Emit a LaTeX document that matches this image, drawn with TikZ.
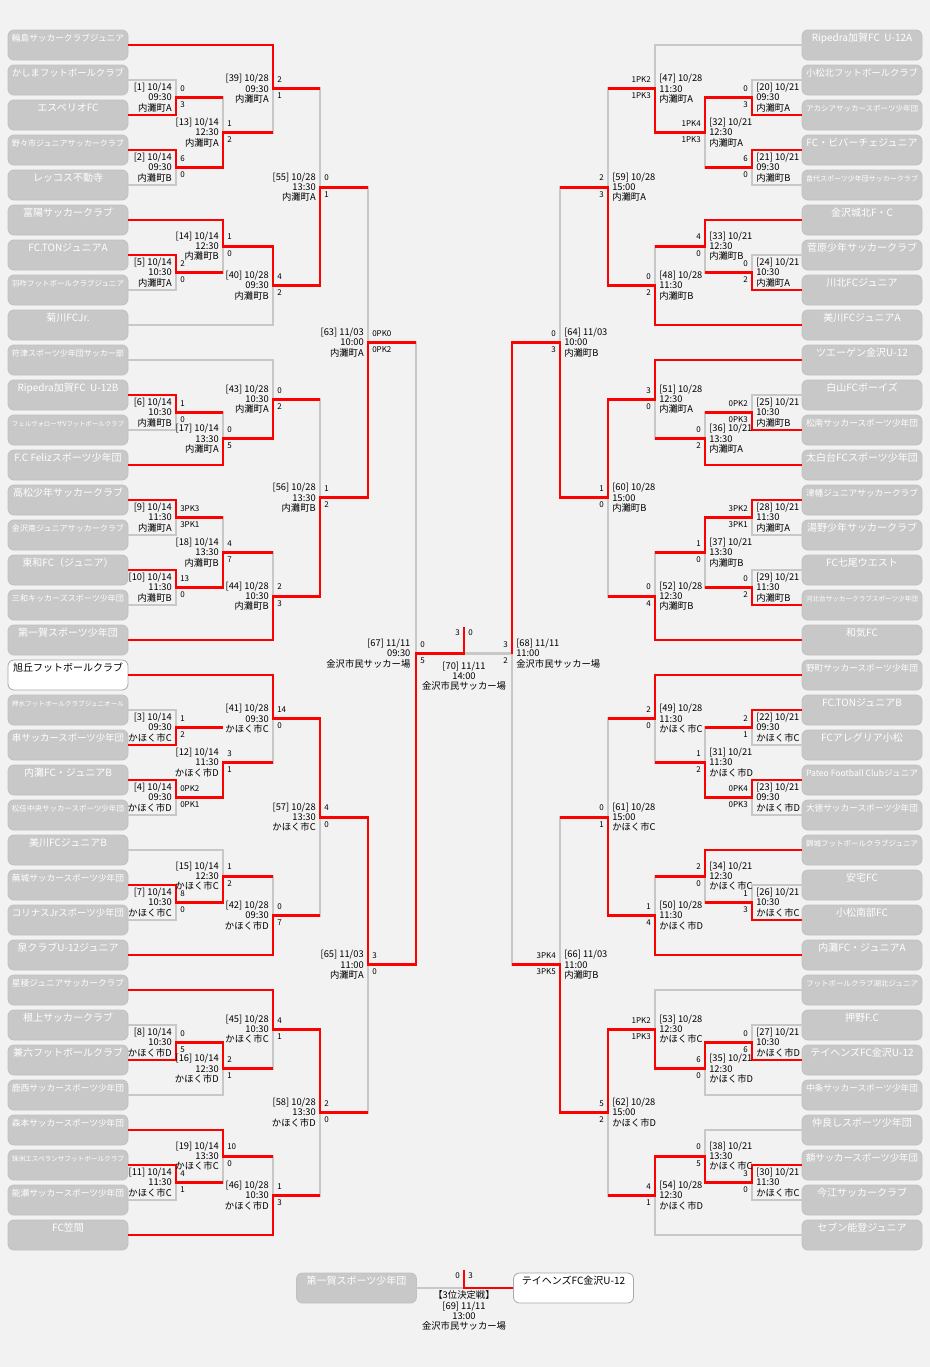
\documentclass[tikz,border=0pt]{standalone}
\usepackage{fontspec}
\setmainfont{Noto Sans CJK JP}
\usepackage{graphicx}
\usepackage{tikz}
\usetikzlibrary{positioning}
\definecolor{bg}{HTML}{F2F2F2}
\definecolor{boxgray}{HTML}{C8C8C8}
\definecolor{boxedge}{HTML}{C0C0C0}
\definecolor{linegray}{HTML}{C8C8C8}
\definecolor{whiteedge}{HTML}{A8A8A8}
\newsavebox{\namebox}
\newcommand{\fitname}[1]{\sbox{\namebox}{#1}\ifdim\wd\namebox>84pt\resizebox{84pt}{!}{#1}\else\usebox{\namebox}\fi}

\begin{document}
\begin{tikzpicture}[x=0.75pt, y=-0.75pt,
    team/.style={rounded corners=4.5pt, fill=boxgray, draw=boxedge, line width=0.6pt, minimum width=90pt, inner xsep=0pt, inner ysep=3.75pt, text height=5pt, text depth=10pt, text=white, font=\fontsize{7.5}{8}\selectfont},
    topteam/.style={team, fill=white, draw=whiteedge, text=black},
    infoL/.style={inner sep=0pt, align=right, font=\fontsize{7}{7.7}\selectfont},
    infoR/.style={inner sep=0pt, align=left, font=\fontsize{7}{7.7}\selectfont},
    infoC/.style={inner sep=0pt, align=center, font=\fontsize{7}{7.7}\selectfont},
    score/.style={inner sep=0pt, font=\fontsize{6}{6}\selectfont},
    won/.style={draw=red, line width=2.2pt},
    lost/.style={draw=linegray, line width=2.2pt, line cap=rect}]
    \fill[bg] (0,0) rectangle (930,1367);
    \useasboundingbox (0,0) rectangle (930,1367);

    % Teams, left
    \node[team] (l1) at (68,45) {\fitname{輪島サッカークラブジュニア}};
    \node[team] (l2) at (68,80) {\fitname{かしまフットボールクラブ}};
    \node[team] (l3) at (68,115) {\fitname{エスペリオFC}};
    \node[team] (l4) at (68,150) {\fitname{野々市ジュニアサッカークラブ}};
    \node[team] (l5) at (68,185) {\fitname{レッコス不動寺}};
    \node[team] (l6) at (68,220) {\fitname{富陽サッカークラブ}};
    \node[team] (l7) at (68,255) {\fitname{FC.TONジュニアA}};
    \node[team] (l8) at (68,290) {\fitname{羽咋フットボールクラブジュニア}};
    \node[team] (l9) at (68,325) {\fitname{菊川FCJr.}};
    \node[team] (l10) at (68,360) {\fitname{符津スポーツ少年団サッカー部}};
    \node[team] (l11) at (68,395) {\fitname{Ripedra加賀FC~ U-12B}};
    \node[team] (l12) at (68,430) {\fitname{フェルヴォローザVフットボールクラブ}};
    \node[team] (l13) at (68,465) {\fitname{F.C Felizスポーツ少年団}};
    \node[team] (l14) at (68,500) {\fitname{高松少年サッカークラブ}};
    \node[team] (l15) at (68,535) {\fitname{金沢南ジュニアサッカークラブ}};
    \node[team] (l16) at (68,570) {\fitname{東和FC（ジュニア）}};
    \node[team] (l17) at (68,605) {\fitname{三和キッカーズスポーツ少年団}};
    \node[team] (l18) at (68,640) {\fitname{第一賀スポーツ少年団}};
    \node[topteam] (l19) at (68,675) {\fitname{旭丘フットボールクラブ}};
    \node[team] (l20) at (68,710) {\fitname{押水フットボールクラブジュニオール}};
    \node[team] (l21) at (68,745) {\fitname{串サッカースポーツ少年団}};
    \node[team] (l22) at (68,780) {\fitname{内灘FC・ジュニアB}};
    \node[team] (l23) at (68,815) {\fitname{松任中央サッカースポーツ少年団}};
    \node[team] (l24) at (68,850) {\fitname{美川FCジュニアB}};
    \node[team] (l25) at (68,885) {\fitname{蕪城サッカースポーツ少年団}};
    \node[team] (l26) at (68,920) {\fitname{コリナスJrスポーツ少年団}};
    \node[team] (l27) at (68,955) {\fitname{泉クラブU-12ジュニア}};
    \node[team] (l28) at (68,990) {\fitname{星稜ジュニアサッカークラブ}};
    \node[team] (l29) at (68,1025) {\fitname{根上サッカークラブ}};
    \node[team] (l30) at (68,1060) {\fitname{兼六フットボールクラブ}};
    \node[team] (l31) at (68,1095) {\fitname{鹿西サッカースポーツ少年団}};
    \node[team] (l32) at (68,1130) {\fitname{森本サッカースポーツ少年団}};
    \node[team] (l33) at (68,1165) {\fitname{珠洲エスペランサフットボールクラブ}};
    \node[team] (l34) at (68,1200) {\fitname{能瀬サッカースポーツ少年団}};
    \node[team] (l35) at (68,1235) {\fitname{FC笠間}};

    % Teams, right
    \node[team] (r1) at (862,45) {\fitname{Ripedra加賀FC~ U-12A}};
    \node[team] (r2) at (862,80) {\fitname{小松北フットボールクラブ}};
    \node[team] (r3) at (862,115) {\fitname{アカシアサッカースポーツ少年団}};
    \node[team] (r4) at (862,150) {\fitname{FC・ビバーチェジュニア}};
    \node[team] (r5) at (862,185) {\fitname{苗代スポーツ少年団サッカークラブ}};
    \node[team] (r6) at (862,220) {\fitname{金沢城北F・C}};
    \node[team] (r7) at (862,255) {\fitname{菅原少年サッカークラブ}};
    \node[team] (r8) at (862,290) {\fitname{川北FCジュニア}};
    \node[team] (r9) at (862,325) {\fitname{美川FCジュニアA}};
    \node[team] (r10) at (862,360) {\fitname{ツエーゲン金沢U-12}};
    \node[team] (r11) at (862,395) {\fitname{白山FCボーイズ}};
    \node[team] (r12) at (862,430) {\fitname{松南サッカースポーツ少年団}};
    \node[team] (r13) at (862,465) {\fitname{太白台FCスポーツ少年団}};
    \node[team] (r14) at (862,500) {\fitname{津幡ジュニアサッカークラブ}};
    \node[team] (r15) at (862,535) {\fitname{湯野少年サッカークラブ}};
    \node[team] (r16) at (862,570) {\fitname{FC七尾ウエスト}};
    \node[team] (r17) at (862,605) {\fitname{河北台サッカークラブスポーツ少年団}};
    \node[team] (r18) at (862,640) {\fitname{和気FC}};
    \node[team] (r19) at (862,675) {\fitname{野町サッカースポーツ少年団}};
    \node[team] (r20) at (862,710) {\fitname{FC.TONジュニアB}};
    \node[team] (r21) at (862,745) {\fitname{FCアレグリア小松}};
    \node[team] (r22) at (862,780) {\fitname{Pateo Football Clubジュニア}};
    \node[team] (r23) at (862,815) {\fitname{大徳サッカースポーツ少年団}};
    \node[team] (r24) at (862,850) {\fitname{錦城フットボールクラブジュニア}};
    \node[team] (r25) at (862,885) {\fitname{安宅FC}};
    \node[team] (r26) at (862,920) {\fitname{小松南部FC}};
    \node[team] (r27) at (862,955) {\fitname{内灘FC・ジュニアA}};
    \node[team] (r28) at (862,990) {\fitname{フットボールクラブ湖北ジュニア}};
    \node[team] (r29) at (862,1025) {\fitname{押野F.C}};
    \node[team] (r30) at (862,1060) {\fitname{テイヘンズFC金沢U-12}};
    \node[team] (r31) at (862,1095) {\fitname{中条サッカースポーツ少年団}};
    \node[team] (r32) at (862,1130) {\fitname{仲良しスポーツ少年団}};
    \node[team] (r33) at (862,1165) {\fitname{額サッカースポーツ少年団}};
    \node[team] (r34) at (862,1200) {\fitname{今江サッカークラブ}};
    \node[team] (r35) at (862,1235) {\fitname{セブン能登ジュニア}};

    % Third place teams
    \node[team] (p1) at (356.5,1288) {\fitname{第一賀スポーツ少年団}};
    \node[topteam] (p2) at (573.5,1288) {\fitname{テイヘンズFC金沢U-12}};

    % Match points, left
    \coordinate (m1) at (176,97.5);
    \coordinate (m2) at (176,167.5);
    \coordinate (m5) at (176,272.5);
    \coordinate (m6) at (176,412.5);
    \coordinate (m9) at (176,517.5);
    \coordinate (m10) at (176,587.5);
    \coordinate (m3) at (176,727.5);
    \coordinate (m4) at (176,797.5);
    \coordinate (m7) at (176,902.5);
    \coordinate (m8) at (176,1042.5);
    \coordinate (m11) at (176,1182.5);
    \coordinate (m13) at (223,132.5);
    \coordinate (m14) at (223,246.25);
    \coordinate (m17) at (223,438.75);
    \coordinate (m18) at (223,552.5);
    \coordinate (m12) at (223,762.5);
    \coordinate (m15) at (223,876.25);
    \coordinate (m16) at (223,1068.75);
    \coordinate (m19) at (223,1156.25);
    \coordinate (m39) at (273,88.75);
    \coordinate (m40) at (273,285.625);
    \coordinate (m43) at (273,399.375);
    \coordinate (m44) at (273,596.25);
    \coordinate (m41) at (273,718.75);
    \coordinate (m42) at (273,915.625);
    \coordinate (m45) at (273,1029.375);
    \coordinate (m46) at (273,1195.625);
    \coordinate (m55) at (320,187.1875);
    \coordinate (m56) at (320,497.8125);
    \coordinate (m57) at (320,817.1875);
    \coordinate (m58) at (320,1112.5);
    \coordinate (m63) at (368,342.5);
    \coordinate (m65) at (368,964.84);
    \coordinate (m67) at (416,653.67);
    \coordinate (m70) at (464,653.67);
    \coordinate (w70) at (464,627);

    % Match points, right
    \coordinate (m20) at (752,97.5);
    \coordinate (m21) at (752,167.5);
    \coordinate (m24) at (752,272.5);
    \coordinate (m25) at (752,412.5);
    \coordinate (m28) at (752,517.5);
    \coordinate (m29) at (752,587.5);
    \coordinate (m22) at (752,727.5);
    \coordinate (m23) at (752,797.5);
    \coordinate (m26) at (752,902.5);
    \coordinate (m27) at (752,1042.5);
    \coordinate (m30) at (752,1182.5);
    \coordinate (m32) at (705,132.5);
    \coordinate (m33) at (705,246.25);
    \coordinate (m36) at (705,438.75);
    \coordinate (m37) at (705,552.5);
    \coordinate (m31) at (705,762.5);
    \coordinate (m34) at (705,876.25);
    \coordinate (m35) at (705,1068.75);
    \coordinate (m38) at (705,1156.25);
    \coordinate (m47) at (655,88.75);
    \coordinate (m48) at (655,285.625);
    \coordinate (m51) at (655,399.375);
    \coordinate (m52) at (655,596.25);
    \coordinate (m49) at (655,718.75);
    \coordinate (m50) at (655,915.625);
    \coordinate (m53) at (655,1029.375);
    \coordinate (m54) at (655,1195.625);
    \coordinate (m59) at (608,187.1875);
    \coordinate (m60) at (608,497.8125);
    \coordinate (m61) at (608,817.1875);
    \coordinate (m62) at (608,1112.5);
    \coordinate (m64) at (560,342.5);
    \coordinate (m66) at (560,964.84);
    \coordinate (m68) at (512,653.67);
    \coordinate (m69) at (464,1288);
    \coordinate (w69) at (464,1270);

    % Lines, losers
    \draw[lost] (l2.east) -- (m1 |- l2.east) -- (m1);
    \draw[lost] (l5.east) -- (m2 |- l5.east) -- (m2);
    \draw[lost] (m13 |- m1) -- (m13);
    \draw[lost] (l8.east) -- (m5 |- l8.east) -- (m5);
    \draw[lost] (m14 |- m5) -- (m14);
    \draw[lost] (m39 |- m13) -- (m39);
    \draw[lost] (l9.east) -- (m40 |- l9.east) -- (m40);
    \draw[lost] (m55 |- m39) -- (m55);
    \draw[lost] (l12.east) -- (m6 |- l12.east) -- (m6);
    \draw[lost] (m17 |- m6) -- (m17);
    \draw[lost] (l10.east) -- (m43 |- l10.east) -- (m43);
    \draw[lost] (l15.east) -- (m9 |- l15.east) -- (m9);
    \draw[lost] (l17.east) -- (m10 |- l17.east) -- (m10);
    \draw[lost] (m18 |- m9) -- (m18);
    \draw[lost] (m44 |- m18) -- (m44);
    \draw[lost] (m56 |- m43) -- (m56);
    \draw[lost] (m63 |- m55) -- (m63);
    \draw[lost] (l20.east) -- (m3 |- l20.east) -- (m3);
    \draw[lost] (l23.east) -- (m4 |- l23.east) -- (m4);
    \draw[lost] (m12 |- m4) -- (m12);
    \draw[lost] (m41 |- m12) -- (m41);
    \draw[lost] (l26.east) -- (m7 |- l26.east) -- (m7);
    \draw[lost] (l24.east) -- (m15 |- l24.east) -- (m15);
    \draw[lost] (m42 |- m15) -- (m42);
    \draw[lost] (m57 |- m42) -- (m57);
    \draw[lost] (l29.east) -- (m8 |- l29.east) -- (m8);
    \draw[lost] (l31.east) -- (m16 |- l31.east) -- (m16);
    \draw[lost] (m45 |- m16) -- (m45);
    \draw[lost] (l34.east) -- (m11 |- l34.east) -- (m11);
    \draw[lost] (m19 |- m11) -- (m19);
    \draw[lost] (m46 |- m19) -- (m46);
    \draw[lost] (m58 |- m46) -- (m58);
    \draw[lost] (m65 |- m58) -- (m65);
    \draw[lost] (m67 |- m63) -- (m67);
    \draw[lost] (r2.west) -- (m20 |- r2.west) -- (m20);
    \draw[lost] (r5.west) -- (m21 |- r5.west) -- (m21);
    \draw[lost] (m32 |- m21) -- (m32);
    \draw[lost] (r1.west) -- (m47 |- r1.west) -- (m47);
    \draw[lost] (r7.west) -- (m24 |- r7.west) -- (m24);
    \draw[lost] (m33 |- m24) -- (m33);
    \draw[lost] (m48 |- m33) -- (m48);
    \draw[lost] (m59 |- m47) -- (m59);
    \draw[lost] (r11.west) -- (m25 |- r11.west) -- (m25);
    \draw[lost] (m36 |- m25) -- (m36);
    \draw[lost] (m51 |- m36) -- (m51);
    \draw[lost] (r15.west) -- (m28 |- r15.west) -- (m28);
    \draw[lost] (r16.west) -- (m29 |- r16.west) -- (m29);
    \draw[lost] (m37 |- m29) -- (m37);
    \draw[lost] (m52 |- m37) -- (m52);
    \draw[lost] (m60 |- m52) -- (m60);
    \draw[lost] (m64 |- m59) -- (m64);
    \draw[lost] (r21.west) -- (m22 |- r21.west) -- (m22);
    \draw[lost] (r23.west) -- (m23 |- r23.west) -- (m23);
    \draw[lost] (m31 |- m22) -- (m31);
    \draw[lost] (m49 |- m31) -- (m49);
    \draw[lost] (r25.west) -- (m26 |- r25.west) -- (m26);
    \draw[lost] (m34 |- m26) -- (m34);
    \draw[lost] (m50 |- m34) -- (m50);
    \draw[lost] (m61 |- m49) -- (m61);
    \draw[lost] (r29.west) -- (m27 |- r29.west) -- (m27);
    \draw[lost] (r31.west) -- (m35 |- r31.west) -- (m35);
    \draw[lost] (r28.west) -- (m53 |- r28.west) -- (m53);
    \draw[lost] (r34.west) -- (m30 |- r34.west) -- (m30);
    \draw[lost] (r32.west) -- (m38 |- r32.west) -- (m38);
    \draw[lost] (r35.west) -- (m54 |- r35.west) -- (m54);
    \draw[lost] (m62 |- m54) -- (m62);
    \draw[lost] (m66 |- m61) -- (m66);
    \draw[lost] (m68 |- m66) -- (m68);
    \draw[lost] (m68) -- (m70);
    \draw[lost] (p1.east) -- (m69);

    % Lines, winners
    \draw[won] (l1.east) -- (m39 |- l1.east) -- (m39) -- (m55 |- m39);
    \draw[won] (l3.east) -- (m1 |- l3.east) -- (m1) -- (m13 |- m1);
    \draw[won] (l4.east) -- (m2 |- l4.east) -- (m2) -- (m13 |- m2) -- (m13) -- (m39 |- m13);
    \draw[won] (l6.east) -- (m14 |- l6.east) -- (m14) -- (m40 |- m14) -- (m40) -- (m55 |- m40) -- (m55) -- (m63 |- m55);
    \draw[won] (l7.east) -- (m5 |- l7.east) -- (m5) -- (m14 |- m5);
    \draw[won] (l11.east) -- (m6 |- l11.east) -- (m6) -- (m17 |- m6);
    \draw[won] (l13.east) -- (m17 |- l13.east) -- (m17) -- (m43 |- m17) -- (m43) -- (m56 |- m43);
    \draw[won] (l14.east) -- (m9 |- l14.east) -- (m9) -- (m18 |- m9);
    \draw[won] (l16.east) -- (m10 |- l16.east) -- (m10) -- (m18 |- m10) -- (m18) -- (m44 |- m18);
    \draw[won] (l18.east) -- (m44 |- l18.east) -- (m44) -- (m56 |- m44) -- (m56) -- (m63 |- m56) -- (m63) -- (m67 |- m63);
    \draw[won] (l19.east) -- (m41 |- l19.east) -- (m41) -- (m57 |- m41) -- (m57) -- (m65 |- m57) -- (m65) -- (m67 |- m65) -- (m67) -- (m70) -- (w70);
    \draw[won] (l21.east) -- (m3 |- l21.east) -- (m3) -- (m12 |- m3);
    \draw[won] (l22.east) -- (m4 |- l22.east) -- (m4) -- (m12 |- m4) -- (m12) -- (m41 |- m12);
    \draw[won] (l25.east) -- (m7 |- l25.east) -- (m7) -- (m15 |- m7) -- (m15) -- (m42 |- m15);
    \draw[won] (l27.east) -- (m42 |- l27.east) -- (m42) -- (m57 |- m42);
    \draw[won] (l28.east) -- (m45 |- l28.east) -- (m45) -- (m58 |- m45) -- (m58) -- (m65 |- m58);
    \draw[won] (l30.east) -- (m8 |- l30.east) -- (m8) -- (m16 |- m8) -- (m16) -- (m45 |- m16);
    \draw[won] (l32.east) -- (m19 |- l32.east) -- (m19) -- (m46 |- m19);
    \draw[won] (l33.east) -- (m11 |- l33.east) -- (m11) -- (m19 |- m11);
    \draw[won] (l35.east) -- (m46 |- l35.east) -- (m46) -- (m58 |- m46);
    \draw[won] (r3.west) -- (m20 |- r3.west) -- (m20) -- (m32 |- m20) -- (m32) -- (m47 |- m32) -- (m47) -- (m59 |- m47);
    \draw[won] (r4.west) -- (m21 |- r4.west) -- (m21) -- (m32 |- m21);
    \draw[won] (r6.west) -- (m33 |- r6.west) -- (m33) -- (m48 |- m33);
    \draw[won] (r8.west) -- (m24 |- r8.west) -- (m24) -- (m33 |- m24);
    \draw[won] (r9.west) -- (m48 |- r9.west) -- (m48) -- (m59 |- m48) -- (m59) -- (m64 |- m59);
    \draw[won] (r10.west) -- (m51 |- r10.west) -- (m51) -- (m60 |- m51) -- (m60) -- (m64 |- m60) -- (m64) -- (m68 |- m64) -- (m68);
    \draw[won] (r12.west) -- (m25 |- r12.west) -- (m25) -- (m36 |- m25);
    \draw[won] (r13.west) -- (m36 |- r13.west) -- (m36) -- (m51 |- m36);
    \draw[won] (r14.west) -- (m28 |- r14.west) -- (m28) -- (m37 |- m28) -- (m37) -- (m52 |- m37);
    \draw[won] (r17.west) -- (m29 |- r17.west) -- (m29) -- (m37 |- m29);
    \draw[won] (r18.west) -- (m52 |- r18.west) -- (m52) -- (m60 |- m52);
    \draw[won] (r19.west) -- (m49 |- r19.west) -- (m49) -- (m61 |- m49);
    \draw[won] (r20.west) -- (m22 |- r20.west) -- (m22) -- (m31 |- m22);
    \draw[won] (r22.west) -- (m23 |- r22.west) -- (m23) -- (m31 |- m23) -- (m31) -- (m49 |- m31);
    \draw[won] (r24.west) -- (m34 |- r24.west) -- (m34) -- (m50 |- m34);
    \draw[won] (r26.west) -- (m26 |- r26.west) -- (m26) -- (m34 |- m26);
    \draw[won] (r27.west) -- (m50 |- r27.west) -- (m50) -- (m61 |- m50) -- (m61) -- (m66 |- m61);
    \draw[won] (r30.west) -- (m27 |- r30.west) -- (m27) -- (m35 |- m27) -- (m35) -- (m53 |- m35) -- (m53) -- (m62 |- m53) -- (m62) -- (m66 |- m62) -- (m66) -- (m68 |- m66);
    \draw[won] (r33.west) -- (m30 |- r33.west) -- (m30) -- (m38 |- m30) -- (m38) -- (m54 |- m38) -- (m54) -- (m62 |- m54);
    \draw[won] (p2.west) -- (m69) -- (w69);

    % Match texts, left
    \node[infoL, left=3pt of m1] {[1] 10/14\\09:30\\内灘町A}; \node[score, above right=4.5pt and 3pt of m1] {0}; \node[score, below right=3pt and 3pt of m1] {3};
    \node[infoL, left=3pt of m2] {[2] 10/14\\09:30\\内灘町B}; \node[score, above right=4.5pt and 3pt of m2] {6}; \node[score, below right=3pt and 3pt of m2] {0};
    \node[infoL, left=3pt of m13] {[13] 10/14\\12:30\\内灘町A}; \node[score, above right=4.5pt and 3pt of m13] {1}; \node[score, below right=3pt and 3pt of m13] {2};
    \node[infoL, left=3pt of m5] {[5] 10/14\\10:30\\内灘町A}; \node[score, above right=4.5pt and 3pt of m5] {2}; \node[score, below right=3pt and 3pt of m5] {0};
    \node[infoL, left=3pt of m14] {[14] 10/14\\12:30\\内灘町B}; \node[score, above right=4.5pt and 3pt of m14] {1}; \node[score, below right=3pt and 3pt of m14] {0};
    \node[infoL, left=3pt of m39] {[39] 10/28\\09:30\\内灘町A}; \node[score, above right=4.5pt and 3pt of m39] {2}; \node[score, below right=3pt and 3pt of m39] {1};
    \node[infoL, left=3pt of m40] {[40] 10/28\\09:30\\内灘町B}; \node[score, above right=4.5pt and 3pt of m40] {4}; \node[score, below right=3pt and 3pt of m40] {2};
    \node[infoL, left=3pt of m55] {[55] 10/28\\13:30\\内灘町A}; \node[score, above right=4.5pt and 3pt of m55] {0}; \node[score, below right=3pt and 3pt of m55] {1};
    \node[infoL, left=3pt of m6] {[6] 10/14\\10:30\\内灘町B}; \node[score, above right=4.5pt and 3pt of m6] {1}; \node[score, below right=3pt and 3pt of m6] {0};
    \node[infoL, left=3pt of m17] {[17] 10/14\\13:30\\内灘町A}; \node[score, above right=4.5pt and 3pt of m17] {0}; \node[score, below right=3pt and 3pt of m17] {5};
    \node[infoL, left=3pt of m43] {[43] 10/28\\10:30\\内灘町A}; \node[score, above right=4.5pt and 3pt of m43] {0}; \node[score, below right=3pt and 3pt of m43] {2};
    \node[infoL, left=3pt of m9] {[9] 10/14\\11:30\\内灘町A}; \node[score, above right=4.5pt and 3pt of m9] {3PK3}; \node[score, below right=3pt and 3pt of m9] {3PK1};
    \node[infoL, left=3pt of m10] {[10] 10/14\\11:30\\内灘町B}; \node[score, above right=4.5pt and 3pt of m10] {13}; \node[score, below right=3pt and 3pt of m10] {0};
    \node[infoL, left=3pt of m18] {[18] 10/14\\13:30\\内灘町B}; \node[score, above right=4.5pt and 3pt of m18] {4}; \node[score, below right=3pt and 3pt of m18] {7};
    \node[infoL, left=3pt of m44] {[44] 10/28\\10:30\\内灘町B}; \node[score, above right=4.5pt and 3pt of m44] {2}; \node[score, below right=3pt and 3pt of m44] {3};
    \node[infoL, left=3pt of m56] {[56] 10/28\\13:30\\内灘町B}; \node[score, above right=4.5pt and 3pt of m56] {1}; \node[score, below right=3pt and 3pt of m56] {2};
    \node[infoL, left=3pt of m63] {[63] 11/03\\10:00\\内灘町A}; \node[score, above right=4.5pt and 3pt of m63] {0PK0}; \node[score, below right=3pt and 3pt of m63] {0PK2};
    \node[infoL, left=3pt of m3] {[3] 10/14\\09:30\\かほく市C}; \node[score, above right=4.5pt and 3pt of m3] {1}; \node[score, below right=3pt and 3pt of m3] {2};
    \node[infoL, left=3pt of m4] {[4] 10/14\\09:30\\かほく市D}; \node[score, above right=4.5pt and 3pt of m4] {0PK2}; \node[score, below right=3pt and 3pt of m4] {0PK1};
    \node[infoL, left=3pt of m12] {[12] 10/14\\11:30\\かほく市D}; \node[score, above right=4.5pt and 3pt of m12] {3}; \node[score, below right=3pt and 3pt of m12] {1};
    \node[infoL, left=3pt of m41] {[41] 10/28\\09:30\\かほく市C}; \node[score, above right=4.5pt and 3pt of m41] {14}; \node[score, below right=3pt and 3pt of m41] {0};
    \node[infoL, left=3pt of m7] {[7] 10/14\\10:30\\かほく市C}; \node[score, above right=4.5pt and 3pt of m7] {8}; \node[score, below right=3pt and 3pt of m7] {0};
    \node[infoL, left=3pt of m15] {[15] 10/14\\12:30\\かほく市C}; \node[score, above right=4.5pt and 3pt of m15] {1}; \node[score, below right=3pt and 3pt of m15] {2};
    \node[infoL, left=3pt of m42] {[42] 10/28\\09:30\\かほく市D}; \node[score, above right=4.5pt and 3pt of m42] {0}; \node[score, below right=3pt and 3pt of m42] {7};
    \node[infoL, left=3pt of m57] {[57] 10/28\\13:30\\かほく市C}; \node[score, above right=4.5pt and 3pt of m57] {4}; \node[score, below right=3pt and 3pt of m57] {0};
    \node[infoL, left=3pt of m8] {[8] 10/14\\10:30\\かほく市D}; \node[score, above right=4.5pt and 3pt of m8] {0}; \node[score, below right=3pt and 3pt of m8] {5};
    \node[infoL, left=3pt of m16] {[16] 10/14\\12:30\\かほく市D}; \node[score, above right=4.5pt and 3pt of m16] {2}; \node[score, below right=3pt and 3pt of m16] {1};
    \node[infoL, left=3pt of m45] {[45] 10/28\\10:30\\かほく市C}; \node[score, above right=4.5pt and 3pt of m45] {4}; \node[score, below right=3pt and 3pt of m45] {1};
    \node[infoL, left=3pt of m11] {[11] 10/14\\11:30\\かほく市C}; \node[score, above right=4.5pt and 3pt of m11] {4}; \node[score, below right=3pt and 3pt of m11] {1};
    \node[infoL, left=3pt of m19] {[19] 10/14\\13:30\\かほく市C}; \node[score, above right=4.5pt and 3pt of m19] {10}; \node[score, below right=3pt and 3pt of m19] {0};
    \node[infoL, left=3pt of m46] {[46] 10/28\\10:30\\かほく市D}; \node[score, above right=4.5pt and 3pt of m46] {1}; \node[score, below right=3pt and 3pt of m46] {3};
    \node[infoL, left=3pt of m58] {[58] 10/28\\13:30\\かほく市D}; \node[score, above right=4.5pt and 3pt of m58] {2}; \node[score, below right=3pt and 3pt of m58] {0};
    \node[infoL, left=3pt of m65] {[65] 11/03\\11:00\\内灘町A}; \node[score, above right=4.5pt and 3pt of m65] {3}; \node[score, below right=3pt and 3pt of m65] {0};
    \node[infoL, left=4pt of m67] {[67] 11/11\\09:30\\金沢市民サッカー場}; \node[score, above right=4.5pt and 3pt of m67] {0}; \node[score, below right=3pt and 3pt of m67] {5};

    % Match texts, right
    \node[infoR, right=3pt of m20] {[20] 10/21\\09:30\\内灘町A}; \node[score, above left=4.5pt and 3pt of m20] {0}; \node[score, below left=3pt and 3pt of m20] {3};
    \node[infoR, right=3pt of m21] {[21] 10/21\\09:30\\内灘町B}; \node[score, above left=4.5pt and 3pt of m21] {6}; \node[score, below left=3pt and 3pt of m21] {0};
    \node[infoR, right=3pt of m32] {[32] 10/21\\12:30\\内灘町A}; \node[score, above left=4.5pt and 3pt of m32] {1PK4}; \node[score, below left=3pt and 3pt of m32] {1PK3};
    \node[infoR, right=3pt of m47] {[47] 10/28\\11:30\\内灘町A}; \node[score, above left=4.5pt and 3pt of m47] {1PK2}; \node[score, below left=3pt and 3pt of m47] {1PK3};
    \node[infoR, right=3pt of m24] {[24] 10/21\\10:30\\内灘町A}; \node[score, above left=4.5pt and 3pt of m24] {0}; \node[score, below left=3pt and 3pt of m24] {2};
    \node[infoR, right=3pt of m33] {[33] 10/21\\12:30\\内灘町B}; \node[score, above left=4.5pt and 3pt of m33] {4}; \node[score, below left=3pt and 3pt of m33] {0};
    \node[infoR, right=3pt of m48] {[48] 10/28\\11:30\\内灘町B}; \node[score, above left=4.5pt and 3pt of m48] {0}; \node[score, below left=3pt and 3pt of m48] {2};
    \node[infoR, right=3pt of m59] {[59] 10/28\\15:00\\内灘町A}; \node[score, above left=4.5pt and 3pt of m59] {2}; \node[score, below left=3pt and 3pt of m59] {3};
    \node[infoR, right=3pt of m25] {[25] 10/21\\10:30\\内灘町B}; \node[score, above left=4.5pt and 3pt of m25] {0PK2}; \node[score, below left=3pt and 3pt of m25] {0PK3};
    \node[infoR, right=3pt of m36] {[36] 10/21\\13:30\\内灘町A}; \node[score, above left=4.5pt and 3pt of m36] {0}; \node[score, below left=3pt and 3pt of m36] {2};
    \node[infoR, right=3pt of m51] {[51] 10/28\\12:30\\内灘町A}; \node[score, above left=4.5pt and 3pt of m51] {3}; \node[score, below left=3pt and 3pt of m51] {0};
    \node[infoR, right=3pt of m28] {[28] 10/21\\11:30\\内灘町A}; \node[score, above left=4.5pt and 3pt of m28] {3PK2}; \node[score, below left=3pt and 3pt of m28] {3PK1};
    \node[infoR, right=3pt of m29] {[29] 10/21\\11:30\\内灘町B}; \node[score, above left=4.5pt and 3pt of m29] {0}; \node[score, below left=3pt and 3pt of m29] {2};
    \node[infoR, right=3pt of m37] {[37] 10/21\\13:30\\内灘町B}; \node[score, above left=4.5pt and 3pt of m37] {1}; \node[score, below left=3pt and 3pt of m37] {0};
    \node[infoR, right=3pt of m52] {[52] 10/28\\12:30\\内灘町B}; \node[score, above left=4.5pt and 3pt of m52] {0}; \node[score, below left=3pt and 3pt of m52] {4};
    \node[infoR, right=3pt of m60] {[60] 10/28\\15:00\\内灘町B}; \node[score, above left=4.5pt and 3pt of m60] {1}; \node[score, below left=3pt and 3pt of m60] {0};
    \node[infoR, right=3pt of m64] {[64] 11/03\\10:00\\内灘町B}; \node[score, above left=4.5pt and 3pt of m64] {0}; \node[score, below left=3pt and 3pt of m64] {3};
    \node[infoR, right=3pt of m22] {[22] 10/21\\09:30\\かほく市C}; \node[score, above left=4.5pt and 3pt of m22] {2}; \node[score, below left=3pt and 3pt of m22] {1};
    \node[infoR, right=3pt of m23] {[23] 10/21\\09:30\\かほく市D}; \node[score, above left=4.5pt and 3pt of m23] {0PK4}; \node[score, below left=3pt and 3pt of m23] {0PK3};
    \node[infoR, right=3pt of m31] {[31] 10/21\\11:30\\かほく市D}; \node[score, above left=4.5pt and 3pt of m31] {1}; \node[score, below left=3pt and 3pt of m31] {2};
    \node[infoR, right=3pt of m49] {[49] 10/28\\11:30\\かほく市C}; \node[score, above left=4.5pt and 3pt of m49] {2}; \node[score, below left=3pt and 3pt of m49] {0};
    \node[infoR, right=3pt of m26] {[26] 10/21\\10:30\\かほく市C}; \node[score, above left=4.5pt and 3pt of m26] {1}; \node[score, below left=3pt and 3pt of m26] {3};
    \node[infoR, right=3pt of m34] {[34] 10/21\\12:30\\かほく市C}; \node[score, above left=4.5pt and 3pt of m34] {2}; \node[score, below left=3pt and 3pt of m34] {0};
    \node[infoR, right=3pt of m50] {[50] 10/28\\11:30\\かほく市D}; \node[score, above left=4.5pt and 3pt of m50] {1}; \node[score, below left=3pt and 3pt of m50] {4};
    \node[infoR, right=3pt of m61] {[61] 10/28\\15:00\\かほく市C}; \node[score, above left=4.5pt and 3pt of m61] {0}; \node[score, below left=3pt and 3pt of m61] {1};
    \node[infoR, right=3pt of m27] {[27] 10/21\\10:30\\かほく市D}; \node[score, above left=4.5pt and 3pt of m27] {0}; \node[score, below left=3pt and 3pt of m27] {6};
    \node[infoR, right=3pt of m35] {[35] 10/21\\12:30\\かほく市D}; \node[score, above left=4.5pt and 3pt of m35] {6}; \node[score, below left=3pt and 3pt of m35] {0};
    \node[infoR, right=3pt of m53] {[53] 10/28\\12:30\\かほく市C}; \node[score, above left=4.5pt and 3pt of m53] {1PK2}; \node[score, below left=3pt and 3pt of m53] {1PK3};
    \node[infoR, right=3pt of m30] {[30] 10/21\\11:30\\かほく市C}; \node[score, above left=4.5pt and 3pt of m30] {3}; \node[score, below left=3pt and 3pt of m30] {0};
    \node[infoR, right=3pt of m38] {[38] 10/21\\13:30\\かほく市C}; \node[score, above left=4.5pt and 3pt of m38] {0}; \node[score, below left=3pt and 3pt of m38] {5};
    \node[infoR, right=3pt of m54] {[54] 10/28\\12:30\\かほく市D}; \node[score, above left=4.5pt and 3pt of m54] {4}; \node[score, below left=3pt and 3pt of m54] {1};
    \node[infoR, right=3pt of m62] {[62] 10/28\\15:00\\かほく市D}; \node[score, above left=4.5pt and 3pt of m62] {5}; \node[score, below left=3pt and 3pt of m62] {2};
    \node[infoR, right=3pt of m66] {[66] 11/03\\11:00\\内灘町B}; \node[score, above left=4.5pt and 3pt of m66] {3PK4}; \node[score, below left=3pt and 3pt of m66] {3PK5};
    \node[infoR, right=3pt of m68] {[68] 11/11\\11:00\\金沢市民サッカー場}; \node[score, above left=4.5pt and 3pt of m68] {3}; \node[score, below left=3pt and 3pt of m68] {2};

    % Final and third place
    \node[infoC, below=6pt of m70] {[70] 11/11\\14:00\\金沢市民サッカー場};
    \node[score, below left=1.5pt and 3pt of w70] {3}; \node[score, below right=1.5pt and 3pt of w70] {0};
    \node[infoC, below=2pt of m69] {【3位決定戦】\\{[69]} 11/11\\13:00\\金沢市民サッカー場};
    \node[score, below left=1.5pt and 3pt of w69] {0}; \node[score, below right=1.5pt and 3pt of w69] {3};
\end{tikzpicture}
\end{document}
